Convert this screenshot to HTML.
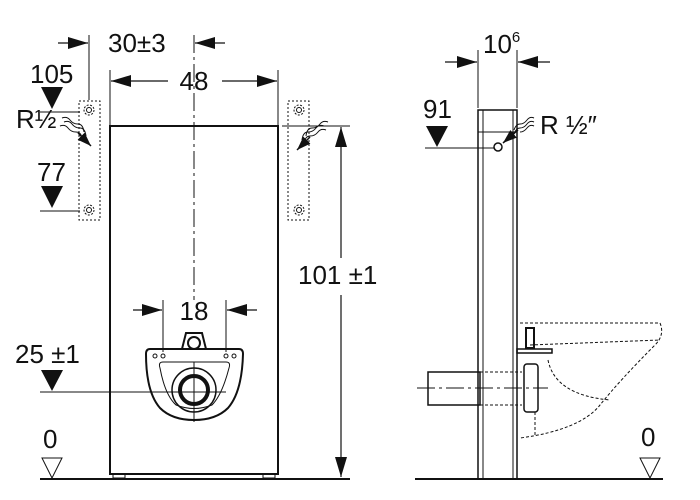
<!DOCTYPE html>
<html><head><style>body{margin:0;background:#fff}svg{display:block}text{font-family:"Liberation Sans",sans-serif;fill:#111}</style></head><body>
<svg width="700" height="500" viewBox="0 0 700 500" xmlns="http://www.w3.org/2000/svg">
<defs>
<marker id="a" viewBox="0 0 20 12" refX="20" refY="6" markerWidth="20" markerHeight="12" markerUnits="userSpaceOnUse" orient="auto-start-reverse"><path d="M0,0 L20,6 L0,12z" fill="#111"/></marker>
<marker id="b" viewBox="0 0 14 10" refX="14" refY="5" markerWidth="14" markerHeight="10" markerUnits="userSpaceOnUse" orient="auto-start-reverse"><path d="M0,0 L14,5 L0,10z" fill="#111"/></marker>
</defs>
<g stroke="#111" fill="none" stroke-width="1">
<!-- LEFT VIEW -->
<line x1="40" y1="479" x2="350" y2="479" stroke-width="2"/>
<rect x="110" y="126" width="168" height="348" stroke-width="2"/>
<rect x="113" y="474" width="12" height="4"/><rect x="263" y="474" width="12" height="4"/>
<line x1="194" y1="35" x2="194" y2="300" stroke-dasharray="18,4,3,4"/>
<line x1="89" y1="35" x2="89" y2="100"/>
<line x1="58" y1="43" x2="88" y2="43" marker-end="url(#a)" stroke-width="1.2"/>
<line x1="225" y1="43" x2="195" y2="43" marker-end="url(#a)" stroke-width="1.2"/>
<line x1="110" y1="70" x2="110" y2="125"/><line x1="278" y1="70" x2="278" y2="125"/>
<line x1="168" y1="81" x2="111" y2="81" marker-end="url(#a)" stroke-width="1.2"/>
<line x1="222" y1="81" x2="277" y2="81" marker-end="url(#a)" stroke-width="1.2"/>
<rect x="79" y="101" width="21" height="119" stroke-dasharray="2,2"/>
<rect x="288" y="101" width="21" height="119" stroke-dasharray="2,2"/>
<circle cx="89" cy="110" r="5" stroke-dasharray="2,1.5"/><circle cx="89" cy="210" r="5" stroke-dasharray="2,1.5"/>
<circle cx="299" cy="110" r="5" stroke-dasharray="2,1.5"/><circle cx="299" cy="210" r="5" stroke-dasharray="2,1.5"/>
<circle cx="89" cy="110" r="2.5"/><circle cx="89" cy="210" r="2.5"/><circle cx="299" cy="110" r="2.5"/><circle cx="299" cy="210" r="2.5"/>
<line x1="40" y1="112" x2="80" y2="112"/><line x1="40" y1="211" x2="80" y2="211"/>
<path d="M62,118 q5,-2 8,2 t8,4 t6,8"/><path d="M64,122 q5,-2 8,2 t8,4 t6,8"/><path d="M60,126 q5,-2 8,2 t8,4 t6,6"/>
<line x1="78" y1="133" x2="91" y2="146" marker-end="url(#b)" stroke-width="1.5"/>
<path d="M326,130 q-5,-2 -8,2 t-8,4 t-6,8"/><path d="M324,126 q-5,-2 -8,2 t-8,4 t-6,8"/><path d="M328,122 q-5,-2 -8,2 t-8,4 t-6,8"/>
<line x1="310" y1="137" x2="297" y2="150" marker-end="url(#b)" stroke-width="1.5"/>
<line x1="282" y1="126" x2="350" y2="126"/>
<line x1="341" y1="258" x2="341" y2="127" marker-end="url(#a)" stroke-width="1.2"/>
<line x1="341" y1="295" x2="341" y2="477" marker-end="url(#a)" stroke-width="1.2"/>
<line x1="163" y1="300" x2="163" y2="352"/><line x1="226" y1="300" x2="226" y2="352"/>
<line x1="133" y1="310" x2="162" y2="310" marker-end="url(#a)" stroke-width="1.2"/>
<line x1="257" y1="310" x2="227" y2="310" marker-end="url(#a)" stroke-width="1.2"/>
<path d="M150,349 L239,349 Q243,349 243,354 Q242,392 228,408 Q216,420 194,420 Q172,420 160,408 Q146,392 146,354 Q146,349 150,349 Z" stroke-width="2"/>
<path d="M163,362 L226,362 Q231,362 229,368 Q222,395 212,405 Q194,412 176,405 Q165,395 160,368 Q158,362 163,362Z"/>
<path d="M182,349 L186,333 L202,333 L206,349" stroke-width="2"/>
<circle cx="194" cy="343" r="6" stroke-width="2"/>
<circle cx="194" cy="390" r="22" stroke-width="1.5"/><circle cx="194" cy="390" r="14" stroke-width="4"/>
<circle cx="155" cy="356" r="2"/><circle cx="163" cy="356" r="2"/><circle cx="226" cy="356" r="2"/><circle cx="234" cy="356" r="2"/>
<line x1="194" y1="362" x2="194" y2="422"/><line x1="40" y1="392" x2="226" y2="392"/>
<!-- RIGHT VIEW -->
<line x1="415" y1="479" x2="663" y2="479" stroke-width="2"/>
<rect x="478" y="110" width="39" height="369" stroke-width="1.5"/>
<line x1="483" y1="110" x2="483" y2="479"/><line x1="513" y1="110" x2="513" y2="479"/>
<line x1="478" y1="132" x2="517" y2="132"/>
<line x1="478" y1="50" x2="478" y2="108"/><line x1="517" y1="50" x2="517" y2="108"/>
<line x1="445" y1="62" x2="477" y2="62" marker-end="url(#a)" stroke-width="1.2"/>
<line x1="550" y1="62" x2="518" y2="62" marker-end="url(#a)" stroke-width="1.2"/>
<line x1="425" y1="148" x2="494" y2="148"/><circle cx="498" cy="147" r="4" stroke-width="1.5"/>
<path d="M534,118 q-4,-2 -7,2 t-7,4 t-6,6"/><path d="M534,122 q-4,-2 -7,2 t-7,4 t-6,6"/><path d="M534,126 q-4,-2 -7,2 t-7,4"/>
<line x1="518" y1="130" x2="503" y2="143" marker-end="url(#b)" stroke-width="1.5"/>
<rect x="428" y="372" width="52" height="33" stroke-width="1.5"/>
<line x1="417" y1="388" x2="548" y2="388" stroke-dasharray="18,4,3,4"/>
<line x1="480" y1="372" x2="522" y2="372" stroke-dasharray="3,2"/><line x1="480" y1="405" x2="522" y2="405" stroke-dasharray="3,2"/>
<rect x="524" y="364" width="14" height="48" rx="3" stroke-width="1.5"/>
<rect x="526" y="328" width="8" height="20" stroke-width="2"/>
<rect x="517" y="349" width="35" height="4" stroke-width="1.5"/>
<path d="M520,323 L660,323 Q665,335 655,345 Q620,380 600,405 Q580,430 520,438" stroke-dasharray="3,2"/>
<path d="M530,345 L660,340" stroke-dasharray="3,2"/>
<path d="M548,360 Q555,395 610,400" stroke-dasharray="3,2"/>
<line x1="535" y1="412" x2="535" y2="436" stroke-dasharray="3,2"/>
</g>
<g fill="#111">
<path d="M41,87 L63,87 L52,109Z"/><path d="M41,186 L63,186 L52,208Z"/>
<path d="M41,370 L63,370 L52,391Z"/><path d="M426,126 L448,126 L437,147Z"/>
</g>
<g fill="none" stroke="#111"><path d="M42,458 L62,458 L52,478Z"/><path d="M640,458 L660,458 L650,478Z"/></g>
<g font-size="26">
<text x="108" y="52">30±3</text><text x="194" y="90" text-anchor="middle">48</text>
<text x="30" y="83">105</text><text x="37" y="181">77</text>
<text x="16" y="128">R½</text>
<text x="298" y="284">101 ±1</text><text x="194" y="320" text-anchor="middle">18</text>
<text x="15" y="363">25 ±1</text><text x="43" y="448">0</text>
<text x="483" y="53">10<tspan font-size="15" dy="-11">6</tspan></text>
<text x="423" y="118">91</text><text x="540" y="134">R ½″</text>
<text x="641" y="446">0</text>
</g>
</svg>
</body></html>
